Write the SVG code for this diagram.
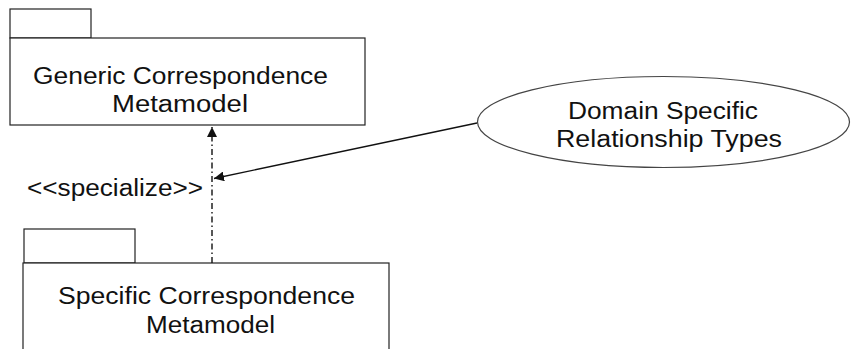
<svg xmlns="http://www.w3.org/2000/svg" width="851" height="349" viewBox="0 0 851 349">
  <style>
    .shape { fill: #ffffff; stroke: #222222; stroke-width: 1.2; }
    .oval { fill: #ffffff; stroke: #444444; stroke-width: 1.2; }
    .label { font-family: "Liberation Sans", Arial, sans-serif; font-size: 23px; fill: #111111; }
    .edge { fill: none; stroke: #111111; stroke-width: 1.4; }
    .dashdot { stroke-dasharray: 6 3 1.5 3; }
  </style>
  <defs>
    <marker id="arrowhead" viewBox="0 0 10 10" refX="10" refY="5" markerWidth="10" markerHeight="10" markerUnits="userSpaceOnUse" orient="auto">
      <path d="M0,0 L10,5 L0,10 Z" fill="#111111"/>
    </marker>
  </defs>

  <!-- Generic package -->
  <g id="generic-metamodel">
    <rect class="shape" x="10" y="9" width="81" height="29"/>
    <rect class="shape" x="10" y="38" width="355" height="87"/>
    <text class="label" x="33" y="84" textLength="295" lengthAdjust="spacingAndGlyphs">Generic Correspondence</text>
    <text class="label" x="112" y="112" textLength="136" lengthAdjust="spacingAndGlyphs">Metamodel</text>
  </g>

  <!-- Specific package -->
  <g id="specific-metamodel">
    <rect class="shape" x="24" y="229" width="111" height="34"/>
    <rect class="shape" x="23" y="263" width="366" height="100"/>
    <text class="label" x="58" y="304" textLength="297" lengthAdjust="spacingAndGlyphs">Specific Correspondence</text>
    <text class="label" x="146" y="333" textLength="129" lengthAdjust="spacingAndGlyphs">Metamodel</text>
  </g>

  <!-- Relationship types use case -->
  <g id="relationship-types">
    <ellipse class="oval" cx="663.5" cy="122" rx="186" ry="45.5"/>
    <text class="label" x="568" y="119" textLength="190" lengthAdjust="spacingAndGlyphs">Domain Specific</text>
    <text class="label" x="556" y="147" textLength="226" lengthAdjust="spacingAndGlyphs">Relationship Types</text>
  </g>

  <!-- Connectors -->
  <g id="connectors">
    <line class="edge dashdot" x1="212" y1="263" x2="212" y2="127" marker-end="url(#arrowhead)"/>
    <line class="edge" x1="477" y1="123" x2="214" y2="178.5" marker-end="url(#arrowhead)"/>
    <text class="label" x="27" y="196" textLength="176" lengthAdjust="spacingAndGlyphs">&lt;&lt;specialize&gt;&gt;</text>
  </g>
</svg>
